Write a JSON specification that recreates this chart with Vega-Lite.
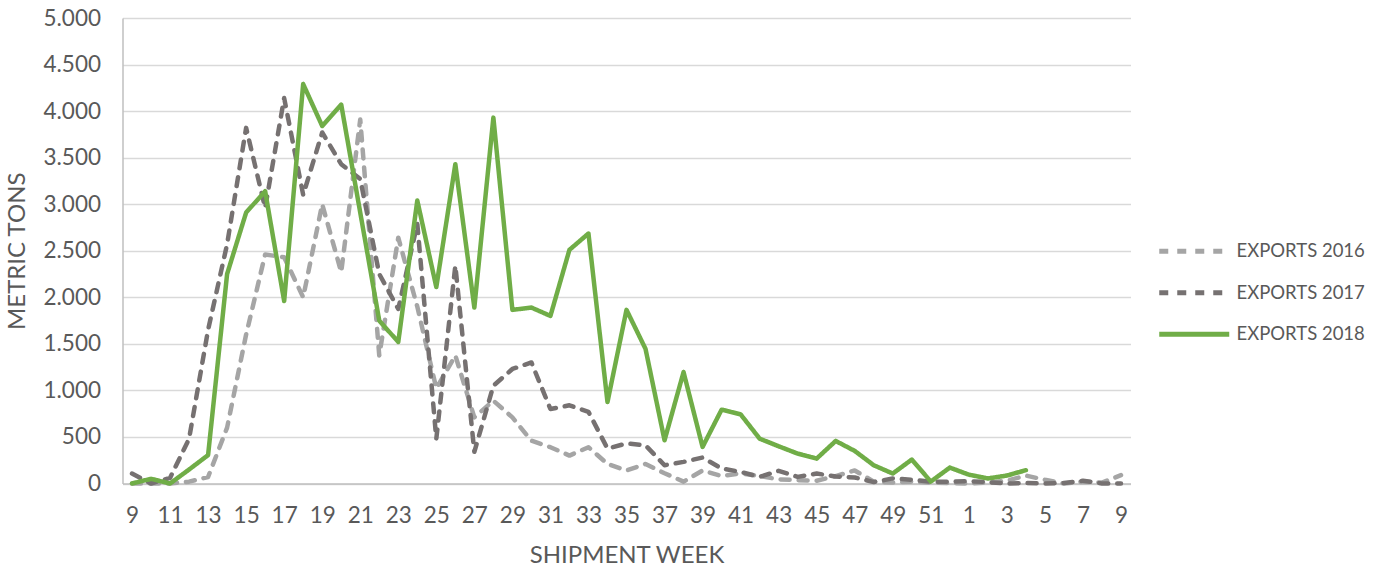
{
  "$schema": "https://vega.github.io/schema/vega-lite/v6.json",
  "width": 1008,
  "height": 465.5,
  "autosize": "none",
  "padding": {"left": 122.5, "top": 18, "right": 254.5, "bottom": 86.5},
  "background": "white",
  "config": {"font": "Lato", "view": {"stroke": null}},
  "data": {"values": [
    {"i": 0, "week": 9, "EXPORTS 2016": 0, "EXPORTS 2017": 107, "EXPORTS 2018": 0},
    {"i": 1, "week": 10, "EXPORTS 2016": 0, "EXPORTS 2017": 0, "EXPORTS 2018": 50},
    {"i": 2, "week": 11, "EXPORTS 2016": 0, "EXPORTS 2017": 60, "EXPORTS 2018": 0},
    {"i": 3, "week": 12, "EXPORTS 2016": 20, "EXPORTS 2017": 480, "EXPORTS 2018": 150},
    {"i": 4, "week": 13, "EXPORTS 2016": 70, "EXPORTS 2017": 1650, "EXPORTS 2018": 305},
    {"i": 5, "week": 14, "EXPORTS 2016": 600, "EXPORTS 2017": 2570, "EXPORTS 2018": 2250},
    {"i": 6, "week": 15, "EXPORTS 2016": 1600, "EXPORTS 2017": 3820, "EXPORTS 2018": 2910},
    {"i": 7, "week": 16, "EXPORTS 2016": 2460, "EXPORTS 2017": 2960, "EXPORTS 2018": 3140},
    {"i": 8, "week": 17, "EXPORTS 2016": 2430, "EXPORTS 2017": 4140, "EXPORTS 2018": 1960},
    {"i": 9, "week": 18, "EXPORTS 2016": 2000, "EXPORTS 2017": 3100, "EXPORTS 2018": 4290},
    {"i": 10, "week": 19, "EXPORTS 2016": 3000, "EXPORTS 2017": 3770, "EXPORTS 2018": 3840},
    {"i": 11, "week": 20, "EXPORTS 2016": 2270, "EXPORTS 2017": 3430, "EXPORTS 2018": 4070},
    {"i": 12, "week": 21, "EXPORTS 2016": 3910, "EXPORTS 2017": 3270, "EXPORTS 2018": 2910},
    {"i": 13, "week": 22, "EXPORTS 2016": 1375, "EXPORTS 2017": 2250, "EXPORTS 2018": 1750},
    {"i": 14, "week": 23, "EXPORTS 2016": 2640, "EXPORTS 2017": 1875, "EXPORTS 2018": 1520},
    {"i": 15, "week": 24, "EXPORTS 2016": 1900, "EXPORTS 2017": 2790, "EXPORTS 2018": 3040},
    {"i": 16, "week": 25, "EXPORTS 2016": 1020, "EXPORTS 2017": 480, "EXPORTS 2018": 2110},
    {"i": 17, "week": 26, "EXPORTS 2016": 1375, "EXPORTS 2017": 2340, "EXPORTS 2018": 3430},
    {"i": 18, "week": 27, "EXPORTS 2016": 710, "EXPORTS 2017": 340, "EXPORTS 2018": 1890},
    {"i": 19, "week": 28, "EXPORTS 2016": 890, "EXPORTS 2017": 1050, "EXPORTS 2018": 3930},
    {"i": 20, "week": 29, "EXPORTS 2016": 710, "EXPORTS 2017": 1230, "EXPORTS 2018": 1865},
    {"i": 21, "week": 30, "EXPORTS 2016": 460, "EXPORTS 2017": 1300, "EXPORTS 2018": 1890},
    {"i": 22, "week": 31, "EXPORTS 2016": 390, "EXPORTS 2017": 800, "EXPORTS 2018": 1800},
    {"i": 23, "week": 32, "EXPORTS 2016": 300, "EXPORTS 2017": 840, "EXPORTS 2018": 2510},
    {"i": 24, "week": 33, "EXPORTS 2016": 390, "EXPORTS 2017": 770, "EXPORTS 2018": 2685},
    {"i": 25, "week": 34, "EXPORTS 2016": 210, "EXPORTS 2017": 375, "EXPORTS 2018": 875},
    {"i": 26, "week": 35, "EXPORTS 2016": 140, "EXPORTS 2017": 430, "EXPORTS 2018": 1865},
    {"i": 27, "week": 36, "EXPORTS 2016": 210, "EXPORTS 2017": 410, "EXPORTS 2018": 1446},
    {"i": 28, "week": 37, "EXPORTS 2016": 110, "EXPORTS 2017": 196, "EXPORTS 2018": 464},
    {"i": 29, "week": 38, "EXPORTS 2016": 20, "EXPORTS 2017": 232, "EXPORTS 2018": 1196},
    {"i": 30, "week": 39, "EXPORTS 2016": 140, "EXPORTS 2017": 279, "EXPORTS 2018": 393},
    {"i": 31, "week": 40, "EXPORTS 2016": 80, "EXPORTS 2017": 161, "EXPORTS 2018": 793},
    {"i": 32, "week": 41, "EXPORTS 2016": 110, "EXPORTS 2017": 125, "EXPORTS 2018": 743},
    {"i": 33, "week": 42, "EXPORTS 2016": 80, "EXPORTS 2017": 71, "EXPORTS 2018": 482},
    {"i": 34, "week": 43, "EXPORTS 2016": 45, "EXPORTS 2017": 136, "EXPORTS 2018": 400},
    {"i": 35, "week": 44, "EXPORTS 2016": 35, "EXPORTS 2017": 71, "EXPORTS 2018": 321},
    {"i": 36, "week": 45, "EXPORTS 2016": 30, "EXPORTS 2017": 107, "EXPORTS 2018": 268},
    {"i": 37, "week": 46, "EXPORTS 2016": 80, "EXPORTS 2017": 75, "EXPORTS 2018": 457},
    {"i": 38, "week": 47, "EXPORTS 2016": 140, "EXPORTS 2017": 65, "EXPORTS 2018": 350},
    {"i": 39, "week": 48, "EXPORTS 2016": 20, "EXPORTS 2017": 15, "EXPORTS 2018": 196},
    {"i": 40, "week": 49, "EXPORTS 2016": 10, "EXPORTS 2017": 55, "EXPORTS 2018": 107},
    {"i": 41, "week": 50, "EXPORTS 2016": 20, "EXPORTS 2017": 40, "EXPORTS 2018": 257},
    {"i": 42, "week": 51, "EXPORTS 2016": 10, "EXPORTS 2017": 20, "EXPORTS 2018": 21},
    {"i": 43, "week": 52, "EXPORTS 2016": 5, "EXPORTS 2017": 20, "EXPORTS 2018": 171},
    {"i": 44, "week": 1, "EXPORTS 2016": 0, "EXPORTS 2017": 25, "EXPORTS 2018": 95},
    {"i": 45, "week": 2, "EXPORTS 2016": 10, "EXPORTS 2017": 15, "EXPORTS 2018": 54},
    {"i": 46, "week": 3, "EXPORTS 2016": 30, "EXPORTS 2017": 0, "EXPORTS 2018": 85},
    {"i": 47, "week": 4, "EXPORTS 2016": 85, "EXPORTS 2017": 5, "EXPORTS 2018": 143},
    {"i": 48, "week": 5, "EXPORTS 2016": 40, "EXPORTS 2017": 0, "EXPORTS 2018": null},
    {"i": 49, "week": 6, "EXPORTS 2016": 0, "EXPORTS 2017": 5, "EXPORTS 2018": null},
    {"i": 50, "week": 7, "EXPORTS 2016": 20, "EXPORTS 2017": 30, "EXPORTS 2018": null},
    {"i": 51, "week": 8, "EXPORTS 2016": 10, "EXPORTS 2017": 0, "EXPORTS 2018": null},
    {"i": 52, "week": 9, "EXPORTS 2016": 90, "EXPORTS 2017": 0, "EXPORTS 2018": null}
  ]},
  "transform": [
    {"fold": ["EXPORTS 2016", "EXPORTS 2017", "EXPORTS 2018"], "as": ["series", "tons"]}
  ],
  "mark": {"type": "line", "strokeWidth": 4.5, "strokeCap": "round", "strokeJoin": "round"},
  "encoding": {
    "x": {
      "field": "i", "type": "ordinal",
      "scale": {"type": "point", "padding": 0.5},
      "axis": {
        "title": "SHIPMENT WEEK",
        "values": [0,2,4,6,8,10,12,14,16,18,20,22,24,26,28,30,32,34,36,38,40,42,44,46,48,50,52],
        "labelExpr": "datum.value + 9 <= 52 ? datum.value + 9 : datum.value - 43",
        "labelAngle": 0, "ticks": false, "grid": false,
        "domainColor": "#bfbfbf", "domainWidth": 1.5,
        "labelPadding": 21, "labelFontSize": 22.5, "labelColor": "#595959",
        "titleFontSize": 24, "titleColor": "#595959", "titleFontWeight": "normal", "titlePadding": 16
      }
    },
    "y": {
      "field": "tons", "type": "quantitative",
      "scale": {"domain": [0, 5000], "nice": false},
      "axis": {
        "title": "METRIC TONS",
        "values": [0,500,1000,1500,2000,2500,3000,3500,4000,4500,5000],
        "labelExpr": "replace(format(datum.value, ','), ',', '.')",
        "ticks": false, "gridColor": "#d9d9d9", "gridWidth": 1.5,
        "domainColor": "#bfbfbf", "domainWidth": 1.5,
        "labelPadding": 22, "labelFontSize": 22.5, "labelColor": "#595959",
        "titleFontSize": 24, "titleColor": "#595959", "titleFontWeight": "normal", "titlePadding": 13
      }
    },
    "color": {
      "field": "series", "type": "nominal",
      "scale": {"domain": ["EXPORTS 2016", "EXPORTS 2017", "EXPORTS 2018"], "range": ["#A5A5A5", "#767171", "#70AD47"]},
      "legend": {"title": null, "orient": "none", "legendX": 1062.5, "legendY": 224, "symbolType": "M-7,0H7", "symbolSize": 100, "symbolStrokeWidth": 5, "labelFontSize": 18.5, "labelColor": "#595959", "labelOffset": 33, "rowPadding": 20.5, "padding": 0}
    },
    "strokeDash": {
      "field": "series", "type": "nominal",
      "scale": {"domain": ["EXPORTS 2016", "EXPORTS 2017", "EXPORTS 2018"], "range": [[9, 9], [9, 9], [1, 0]]},
      "legend": {"title": null, "orient": "none", "legendX": 1062.5, "legendY": 224, "symbolType": "M-7,0H7", "symbolSize": 100, "symbolStrokeWidth": 5, "labelFontSize": 18.5, "labelColor": "#595959", "labelOffset": 33, "rowPadding": 20.5, "padding": 0}
    }
  }
}
